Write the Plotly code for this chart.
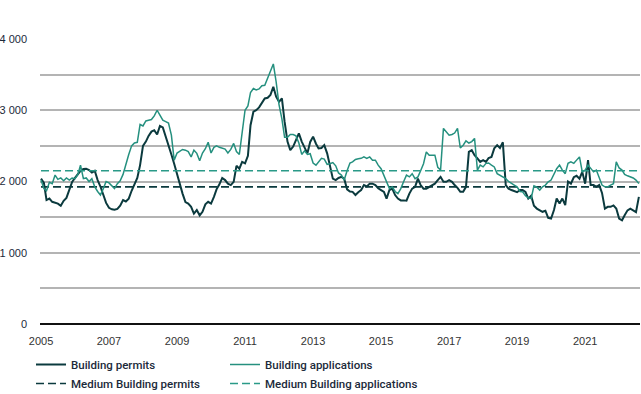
import pandas as pd
import plotly.graph_objects as go

start_month = "2005-01-01"

building_permits = [
    2040, 1980, 1740, 1760, 1715, 1705, 1690, 1660, 1730, 1770, 1900, 1995,  # 2005
    2050, 2100, 2150, 2175, 2180, 2160, 2125, 2150, 2020, 1930, 1820, 1700,  # 2006
    1630, 1610, 1605, 1615, 1660, 1740, 1720, 1760, 1870, 1960, 2050, 2230,  # 2007
    2500, 2560, 2640, 2700, 2720, 2660, 2780, 2760, 2620, 2500, 2380, 2250,  # 2008
    2100, 1960, 1830, 1710, 1690, 1645, 1550, 1600, 1525, 1575, 1680, 1715,  # 2009
    1690, 1785, 1890, 1960, 2050, 2020, 1970, 1950, 1995, 2220, 2180, 2275,  # 2010
    2255, 2360, 2790, 2980, 3000, 3040, 3100, 3165, 3175, 3215, 3330, 3190,  # 2011
    3120, 3165, 2840, 2560, 2440, 2490, 2580, 2675, 2560, 2480, 2395, 2555,  # 2012
    2630, 2530, 2465, 2470, 2510, 2395, 2230, 2040, 2020, 2050, 2065, 2040,  # 2013
    1890, 1860, 1855, 1810, 1850, 1880, 1950, 1930, 1970, 1970, 1950, 1905,  # 2014
    1880, 1855, 1760, 1880, 1900, 1810, 1760, 1735, 1735, 1730, 1830, 1900,  # 2015
    1925, 2040, 1950, 1900, 1900, 1925, 1950, 1970, 2020, 2065, 1995, 1995,  # 2016
    2020, 1995, 1950, 1910, 1855, 1855, 1925, 2415, 2440, 2370, 2325, 2275,  # 2017
    2300, 2275, 2330, 2345, 2465, 2510, 2470, 2550, 1950, 1900, 1880, 1860,  # 2018
    1850, 1880, 1880, 1855, 1760, 1800, 1660, 1620, 1600, 1575, 1590, 1490,  # 2019
    1480, 1600, 1760, 1690, 1760, 1670, 2000, 1970, 2060, 2080, 2040, 2135,  # 2020
    1970, 2300, 1950, 1950, 1925, 1950, 1840, 1620, 1645, 1645, 1665, 1620,  # 2021
    1480, 1455, 1525, 1595, 1620, 1600, 1570, 1785,                          # 2022
]

building_applications = [
    2020, 1900, 1870, 1990, 1970, 2090, 2030, 2050, 2010, 2050, 2020, 2050,  # 2005
    2040, 2100, 2230, 2040, 2050, 2000, 2040, 1925, 1860, 1810, 1900, 2000,  # 2006
    1980, 1930, 1900, 1970, 2010, 2100, 2250, 2380, 2500, 2540, 2550, 2800,  # 2007
    2780, 2850, 2860, 2870, 2920, 3000, 2930, 2860, 2840, 2820, 2650, 2300,  # 2008
    2400, 2430, 2450, 2440, 2420, 2345, 2440, 2395, 2290, 2400, 2460, 2550,  # 2009
    2400, 2480, 2500, 2480, 2465, 2455, 2400, 2450, 2535, 2420, 2380, 2700,  # 2010
    3000, 3060, 3250, 3305, 3285, 3300, 3345, 3350, 3450, 3530, 3650, 3400,  # 2011
    3080, 2880, 2620, 2620, 2660, 2660, 2640, 2540, 2380, 2430, 2380, 2390,  # 2012
    2260, 2230, 2280, 2325, 2315, 2240, 2250, 2265, 2220, 2120, 2090, 2020,  # 2013
    2150, 2260, 2275, 2310, 2320, 2325, 2345, 2325, 2345, 2300, 2300, 2230,  # 2014
    2180, 2090, 1995, 1900, 1925, 1860, 1830, 1900, 2000, 2090, 2065, 2110,  # 2015
    2040, 2065, 2150, 2250, 2415, 2370, 2370, 2370, 2200, 2160, 2745, 2690,  # 2016
    2650, 2660, 2680, 2745, 2470, 2510, 2570, 2540, 2560, 2605, 2160, 2230,  # 2017
    2205, 2255, 2260, 2230, 2205, 2110, 2090, 2065, 2040, 2000, 1970, 1950,  # 2018
    1925, 1860, 1855, 1800, 1770, 1760, 1940, 1920, 1880, 1925, 1950, 1995,  # 2019
    2020, 2100, 2180, 2230, 2160, 2110, 2255, 2275, 2255, 2300, 2345, 2135,  # 2020
    2160, 2230, 2180, 2135, 2160, 2040, 1950, 1925, 1925, 1950, 1970, 2275,  # 2021
    2190, 2160, 2100, 2080, 2065, 2050, 2020, 1970,                          # 2022
]

medium_building_permits = 1925
medium_building_applications = 2150

tick_years = ["2005", "2007", "2009", "2011", "2013", "2015", "2017", "2019", "2021"]
y_ticks = [0, 1000, 2000, 3000, 4000]

n = min(len(building_permits), len(building_applications))
dates = pd.date_range(start_month, periods=n, freq="MS")

DARK = "#0b3a3e"
TEAL = "#25907f"
DARK_DASH = "#0b3a3e"
TEAL_DASH = "#2a9a88"
TEXT = "#1b2a3a"

W, H = 641, 394
ML, MR, MT, MB = 40, 1, 39, 70
PW = W - ML - MR

fig = go.Figure()
fig.add_trace(go.Scatter(x=dates, y=building_permits[:n], mode="lines",
                         name="Building permits", legend="legend",
                         line=dict(color=DARK, width=2)))
fig.add_trace(go.Scatter(x=dates, y=[medium_building_permits] * n, mode="lines",
                         name="Medium Building permits", legend="legend",
                         line=dict(color=DARK_DASH, width=1.6, dash="8px,4px")))
fig.add_trace(go.Scatter(x=dates, y=building_applications[:n], mode="lines",
                         name="Building applications", legend="legend2",
                         line=dict(color=TEAL, width=1.5)))
fig.add_trace(go.Scatter(x=dates, y=[medium_building_applications] * n, mode="lines",
                         name="Medium Building applications", legend="legend2",
                         line=dict(color=TEAL_DASH, width=1.6, dash="8px,4px")))

legend_font = dict(family="Roboto, Liberation Sans, sans-serif", size=11.5,
                   color=TEXT, weight=500)
common_legend = dict(orientation="v", xref="paper", yref="container",
                     xanchor="left", yanchor="top", traceorder="normal",
                     font=legend_font, bgcolor="rgba(0,0,0,0)", tracegroupgap=0)

fig.update_layout(
    width=W, height=H,
    margin=dict(l=ML, r=MR, t=MT, b=MB),
    paper_bgcolor="white", plot_bgcolor="white",
    separators=". ",
    font=dict(family="Liberation Sans, Arial, sans-serif", size=11, color=TEXT),
    showlegend=True,
    legend=dict(x=(31 - ML) / PW, y=1 - 350 / H, **common_legend),
    legend2=dict(x=(225 - ML) / PW, y=1 - 350 / H, **common_legend),
)
fig.update_xaxes(
    type="date",
    range=["2004-12-21", "2022-08-13"],
    tickvals=[pd.Timestamp(y + "-01-01") for y in tick_years],
    ticktext=tick_years,
    tickangle=0,
    showgrid=False, zeroline=False, showline=False, ticks="",
    automargin=False,
    ticklabelstandoff=9,
    tickfont=dict(size=11, color="#333333"),
)
fig.update_yaxes(
    range=[0, 4000],
    tickvals=y_ticks,
    tickformat=",d",
    showgrid=True, gridcolor="#b4b4b4", gridwidth=1.5,
    minor=dict(dtick=500, tick0=0, showgrid=True, gridcolor="#b4b4b4", gridwidth=1.5),
    zeroline=True, zerolinecolor="#111111", zerolinewidth=1.5,
    showline=False, ticks="",
    automargin=False,
    ticklabelstandoff=12,
    tickfont=dict(size=11, color=TEXT),
)

fig.write_html(
    "out.html",
    config={"displayModeBar": False},
    post_script="document.body.style.margin='0';document.body.style.overflow='hidden';",
)
